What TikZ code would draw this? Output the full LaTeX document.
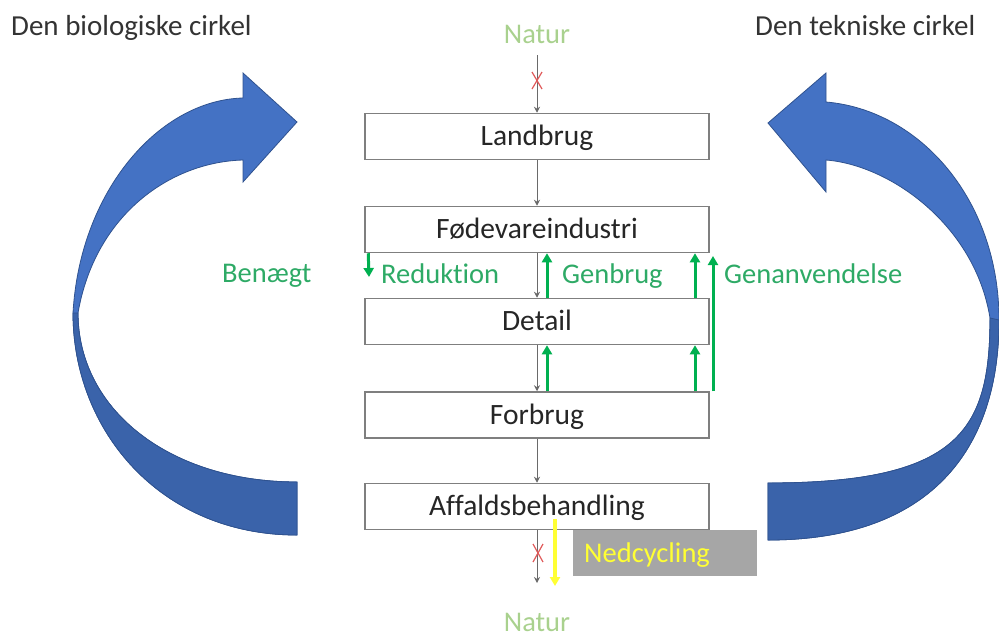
\documentclass[tikz,border=0pt]{standalone}
\usepackage{fontspec}
\setmainfont{Carlito}[Ligatures=NoCommon]
\usetikzlibrary{arrows.meta}
\definecolor{boxgray}{HTML}{7F7F7F}
\definecolor{congray}{HTML}{6A6A6A}
\definecolor{grn}{HTML}{00B050}
\definecolor{grntxt}{HTML}{2EAA66}
\definecolor{natgrn}{HTML}{A9D18E}
\definecolor{blueL}{HTML}{4472C4}
\definecolor{blueD}{HTML}{3A63AA}
\definecolor{blueE}{HTML}{2F528F}
\definecolor{redx}{HTML}{E05A5A}
\definecolor{nedgray}{HTML}{A6A6A6}
\definecolor{yel}{HTML}{FFFF33}
\begin{document}
\begin{tikzpicture}[x=1pt,y=-1pt,
  boxfont/.style={font=\fontsize{29.5}{34}\selectfont},
  bigfont/.style={font=\fontsize{28.5}{33}\selectfont},
  stagebox/.style={draw=boxgray, line width=1.5pt, minimum width=344pt,
    minimum height=46pt, inner sep=0pt, boxfont, text=black!85,
    text height=18pt, text depth=0pt},
  flow/.style={draw=congray, line width=1pt, -{Stealth[length=6pt,width=6pt]}},
  gflow/.style={draw=grn, line width=3pt, -{Triangle[length=9pt,width=10pt]}},
  yflow/.style={draw=yel, line width=3.5pt, -{Triangle[length=9pt,width=10pt]}},
  glabel/.style={text=grntxt, bigfont, anchor=base west, inner sep=0pt},
  header/.style={text=black!80, font=\fontsize{29}{34}\selectfont, anchor=base west, inner sep=0pt},
  naturlbl/.style={text=natgrn, bigfont, anchor=base, inner sep=0pt},
  xmark/.style={draw=redx, line width=1.2pt},
  bluearrow/.style={fill=blueL, draw=blueE, line width=0.8pt},
  blueshade/.style={fill=blueD, draw=blueE, line width=0.8pt}]
\useasboundingbox (0,0) rectangle (999,638);

% left blue curved arrow
\path[bluearrow] (297,535) .. controls (160,535) and (73,430) .. (73,313)
  .. controls (80,190) and (160,100) .. (243,98)
  -- (243,73) -- (297,122) -- (243,182) -- (243,160)
  .. controls (170,162) and (95,215) .. (78,313)
  .. controls (78,410) and (170,482) .. (297,482) -- cycle;
\path[blueshade] (73,313) .. controls (73,430) and (160,535) .. (297,535)
  -- (297,482) .. controls (170,482) and (78,410) .. (78,313) -- cycle;

% right blue curved arrow
\path[bluearrow] (768,540) .. controls (930,540) and (999,450) .. (999,320)
  .. controls (999,200) and (920,110) .. (826,102)
  -- (826,73) -- (768,123) -- (826,192) -- (826,160)
  .. controls (890,165) and (975,225) .. (990,318)
  .. controls (990,430) and (960,483) .. (768,483) -- cycle;
\path[blueshade] (999,320) .. controls (999,450) and (930,540) .. (768,540)
  -- (768,483) .. controls (960,483) and (990,430) .. (990,318) -- cycle;

% headers
\node[header] (hbio) at (11,35) {Den biologiske cirkel};
\node[header] (htek) at (755,35) {Den tekniske cirkel};

% stages
\node[stagebox] (landbrug) at (537,136.5) {Landbrug};
\node[stagebox] (fode) at (537,229.5) {Fødevareindustri};
\node[stagebox] (detail) at (537,321.5) {Detail};
\node[stagebox] (forbrug) at (537,415) {Forbrug};
\node[stagebox] (affald) at (537,506.5) {Affaldsbehandling};

% Natur
\node[naturlbl] (naturt) at (537,43) {Natur};
\node[naturlbl] (naturb) at (537,631) {Natur};

% grey flow
\draw[flow, shorten <=12pt] (naturt.south) -- (landbrug.north);
\draw[flow] (landbrug) -- (fode);
\draw[flow] (fode) -- (detail);
\draw[flow] (detail) -- (forbrug);
\draw[flow] (forbrug) -- (affald);
\coordinate (botend) at (537,583);
\draw[flow] (affald) -- (botend);

% red crosses
\draw[xmark] (532,72) -- (542,89) (542,72) -- (532,89);
\draw[xmark] (533,544) -- (543,562) (543,544) -- (533,562);

% yellow downcycling arrow
\coordinate (ystart) at (555,519);
\coordinate (yend) at (555,586);
\draw[yflow] (ystart) -- (yend);
\node[fill=nedgray, anchor=north west, minimum width=184pt, minimum height=46pt,
  text width=162pt, inner xsep=11pt, inner ysep=0pt, align=left, text=yel, bigfont,
  text height=18pt, text depth=0pt] (ned) at (573,530) {Nedcycling};

% green arrows
\coordinate (redend) at (369,277);
\draw[gflow] ([xshift=4pt]fode.south west) -- (redend);
\draw[gflow] ([xshift=10pt]detail.north) -- ([xshift=10pt]fode.south);
\draw[gflow] ([xshift=10pt]forbrug.north) -- ([xshift=10pt]detail.south);
\draw[gflow] ([xshift=158pt]detail.north) -- ([xshift=158pt]fode.south);
\draw[gflow] ([xshift=158pt]forbrug.north) -- ([xshift=158pt]detail.south);
\coordinate (genend) at (713,256);
\draw[gflow] ([xshift=176pt]forbrug.north) -- (genend);

% green labels
\node[glabel] (benaegt) at (222,282) {Benægt};
\node[glabel] (reduk) at (381,283) {Reduktion};
\node[glabel] (genbrug) at (562,283) {Genbrug};
\node[glabel] (genanv) at (724,283) {Genanvendelse};
\end{tikzpicture}
\end{document}
